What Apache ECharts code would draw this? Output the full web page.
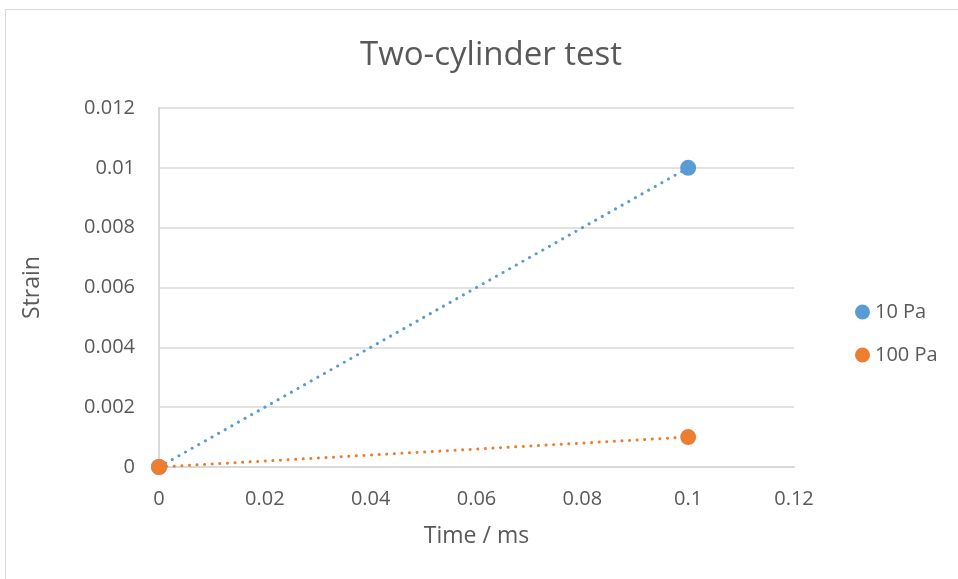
<!DOCTYPE html>
<html>
<head>
<meta charset="utf-8">
<script src="https://cdn.jsdelivr.net/npm/echarts@6/dist/echarts.min.js"></script>
<style>
  html, body { margin: 0; padding: 0; background: #ffffff; }
  #chart { width: 958px; height: 579px; }
</style>
</head>
<body>
<div id="chart"></div>
<script>
// Strain versus time for two applied stresses
const seriesNames = ['10 Pa', '100 Pa'];
const timeMs = [0, 0.1];
const strain10Pa = [0, 0.01];
const strain100Pa = [0, 0.001];
const xTicks = [0, 0.02, 0.04, 0.06, 0.08, 0.1, 0.12];
const yTicks = [0, 0.002, 0.004, 0.006, 0.008, 0.01, 0.012];

const colors = ['#5b9bd5', '#ed7d31'];
const textColor = '#595959';
const gridColor = '#d9d9d9';
const fontFamily = '"Open Sans", "Noto Sans", sans-serif';

const chart = echarts.init(document.getElementById('chart'), null, { renderer: 'canvas' });

function pairs(xs, ys) {
  return xs.map((x, i) => [x, ys[i]]);
}

const allSeries = [strain10Pa, strain100Pa].map((vals, i) => ({
  name: seriesNames[i],
  type: 'line',
  data: pairs(timeMs, vals),
  symbol: 'circle',
  symbolSize: 16,
  itemStyle: { color: colors[i] },
  lineStyle: { color: colors[i], width: 3, type: [0.1, 7.5], cap: 'round' },
  z: 2 + i,
  animation: false
}));

chart.setOption({
  animation: false,
  backgroundColor: '#ffffff',
  title: {
    text: 'Two-cylinder test',
    left: 355,
    top: 34,
    textStyle: { color: textColor, fontFamily, fontSize: 33, fontWeight: 'normal' }
  },
  legend: {
    data: seriesNames,
    orient: 'vertical',
    left: 850,
    top: 297,
    itemGap: 23,
    itemWidth: 15,
    itemHeight: 15,
    icon: 'circle',
    textStyle: { color: textColor, fontFamily, fontSize: 20 }
  },
  grid: { left: 159, right: 164, top: 108, bottom: 112, containLabel: false },
  xAxis: {
    type: 'value',
    min: xTicks[0],
    max: xTicks[xTicks.length - 1],
    interval: 0.02,
    name: 'Time / ms',
    nameLocation: 'middle',
    nameGap: 58,
    nameTextStyle: { color: textColor, fontFamily, fontSize: 23 },
    axisLine: { show: true, onZero: false, lineStyle: { color: gridColor, width: 2 } },
    axisTick: { show: false },
    splitLine: { show: false },
    axisLabel: {
      color: textColor, fontFamily, fontSize: 20, margin: 22,
      formatter: v => String(+v.toFixed(4))
    }
  },
  yAxis: {
    type: 'value',
    min: yTicks[0],
    max: yTicks[yTicks.length - 1],
    interval: 0.002,
    name: 'Strain',
    nameLocation: 'middle',
    nameGap: 115,
    nameRotate: 90,
    nameTextStyle: { color: textColor, fontFamily, fontSize: 23 },
    axisLine: { show: true, onZero: false, lineStyle: { color: gridColor, width: 2 } },
    axisTick: { show: false },
    splitLine: { show: true, lineStyle: { color: gridColor, width: 1.5 } },
    axisLabel: {
      color: textColor, fontFamily, fontSize: 20, margin: 24,
      formatter: v => String(+v.toFixed(4))
    }
  },
  graphic: [{
    type: 'rect',
    shape: { x: 5.5, y: 9.5, width: 1000, height: 1000 },
    style: { fill: null, stroke: '#d9d9d9', lineWidth: 1 },
    silent: true,
    z: 0
  }],
  series: allSeries
});
</script>
</body>
</html>
